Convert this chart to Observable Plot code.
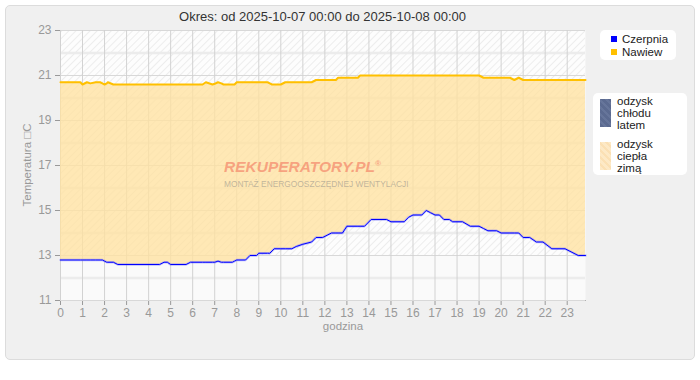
<!DOCTYPE html>
<html><head><meta charset="utf-8">
<script src="https://cdn.jsdelivr.net/npm/d3@7"></script>
<script src="https://cdn.jsdelivr.net/npm/@observablehq/plot@0.6"></script>
<style>
body{margin:0;background:#fff;font-family:"Liberation Sans",Arial,sans-serif;}
#wrap{position:relative;width:700px;height:380px;overflow:hidden;}
#panel{position:absolute;left:5px;top:5px;width:688px;height:353px;background:#f0f0f0;border:1px solid #dcdcdc;border-radius:5px;}
#title{position:absolute;left:60px;width:525px;top:9px;text-align:center;font-size:13px;color:#333;line-height:16px;}
#chart{position:absolute;left:0;top:0;}
.lg{position:absolute;background:#fff;border-radius:5px;font-size:11.5px;color:#222;}
.row{position:absolute;white-space:nowrap;line-height:14px;}
.sq{position:absolute;width:6px;height:6px;}
.sw{position:absolute;width:11px;height:28px;}
#xl{position:absolute;left:300px;width:86px;text-align:center;top:320px;font-size:11.5px;color:#999;}
#yl{position:absolute;left:27px;top:165px;transform:translate(-50%,-50%) rotate(-90deg);font-size:11.5px;color:#999;white-space:nowrap;}
#wm1{position:absolute;left:224px;top:158px;font-size:15.5px;font-weight:bold;font-style:italic;color:rgba(245,140,110,0.75);white-space:nowrap;pointer-events:none;}
#wm1 sup{font-size:8px;vertical-align:6px;}
#wm2{position:absolute;left:224px;top:179px;font-size:8.4px;color:rgba(130,130,130,0.5);white-space:nowrap;pointer-events:none;}
</style></head>
<body>
<div id="wrap">
  <div id="panel"></div>
  <div id="title">Okres: od 2025-10-07 00:00 do 2025-10-08 00:00</div>
  <div id="chart"></div>
  <div id="wm1">REKUPERATORY.PL<sup>®</sup></div>
  <div id="wm2">MONTAŻ ENERGOOSZCZĘDNEJ WENTYLACJI</div>
  <div id="xl">godzina</div>
  <div id="yl">Temperatura □C</div>
  <div class="lg" style="left:600px;top:30px;width:76px;height:30px;">
    <div class="sq" style="left:11px;top:6px;background:#0000ff;"></div>
    <div class="row" style="left:22px;top:2px;">Czerpnia</div>
    <div class="sq" style="left:11px;top:19px;background:#ffc000;"></div>
    <div class="row" style="left:22px;top:15px;">Nawiew</div>
  </div>
  <div class="lg" style="left:593px;top:93px;width:94px;height:82px;">
    <div class="sw" style="left:7px;top:6px;background:repeating-linear-gradient(45deg,#5b6a90 0 3px,#66759a 3px 5px);"></div>
    <div class="row" style="left:24px;top:2px;line-height:12px;">odzysk<br>chłodu<br>latem</div>
    <div class="sw" style="left:7px;top:49px;background:repeating-linear-gradient(45deg,#fde9c6 0 3px,#fbe0b4 3px 5px);"></div>
    <div class="row" style="left:24px;top:45px;line-height:12px;">odzysk<br>ciepła<br>zimą</div>
  </div>
</div>
<script>
const hours = [0,0.9,1.0,1.2,1.35,1.6,1.8,1.9,2.0,2.1,2.15,2.4,2.6,4.5,4.7,4.85,5.0,5.7,5.9,6.45,6.6,6.9,7.0,7.15,7.3,7.4,7.8,7.9,8.0,8.4,8.6,8.9,9.0,9.4,9.5,9.6,9.7,10.0,10.2,10.5,10.7,11.0,11.4,11.6,11.9,12.1,12.3,12.5,12.6,12.8,13.0,13.5,13.6,13.8,14.1,14.8,15.0,15.6,15.8,16.0,16.4,16.6,16.8,17.0,17.2,17.4,17.65,17.8,18.25,18.6,19.0,19.2,19.4,19.8,20.0,20.4,20.6,20.8,21.0,21.3,21.6,21.9,22.3,22.9,23.5,23.83];
const czerpnia = [12.8,12.8,12.8,12.8,12.8,12.8,12.8,12.8,12.75,12.7,12.7,12.7,12.6,12.6,12.7,12.7,12.6,12.6,12.7,12.7,12.7,12.7,12.7,12.75,12.7,12.7,12.7,12.75,12.8,12.8,13.0,13.0,13.1,13.1,13.1,13.2,13.3,13.3,13.3,13.3,13.4,13.5,13.6,13.8,13.8,13.9,14.0,14.0,14.0,14.0,14.3,14.3,14.3,14.3,14.6,14.6,14.5,14.5,14.7,14.8,14.8,15.0,14.9,14.8,14.8,14.6,14.6,14.5,14.5,14.3,14.3,14.2,14.1,14.1,14.0,14.0,14.0,14.0,13.8,13.8,13.6,13.6,13.3,13.3,13.0,13.0];
const nawiew = [20.7,20.7,20.6,20.7,20.65,20.7,20.7,20.65,20.6,20.65,20.7,20.6,20.6,20.6,20.6,20.6,20.6,20.6,20.6,20.6,20.7,20.6,20.63,20.7,20.65,20.6,20.6,20.6,20.7,20.7,20.7,20.7,20.7,20.7,20.65,20.6,20.6,20.6,20.7,20.7,20.7,20.7,20.7,20.8,20.8,20.8,20.8,20.8,20.9,20.9,20.9,20.9,21.0,21.0,21.0,21.0,21.0,21.0,21.0,21.0,21.0,21.0,21.0,21.0,21.0,21.0,21.0,21.0,21.0,21.0,21.0,20.9,20.9,20.9,20.9,20.9,20.8,20.9,20.8,20.8,20.8,20.8,20.8,20.8,20.8,20.8];
const xTicks = [0,1,2,3,4,5,6,7,8,9,10,11,12,13,14,15,16,17,18,19,20,21,22,23];
const yTicks = [11,13,15,17,19,21,23];
const yMinor = [12,14,16,18,20,22];
const xDomain = [0, 23.83];
const yDomain = [11, 23];
const hatchBand = [13, 23];

const rows = hours.map((h, i) => ({h, cz: czerpnia[i], nw: nawiew[i]}));

const chart = Plot.plot({
  width: 600, height: 340,
  marginLeft: 60, marginRight: 15, marginTop: 30, marginBottom: 40,
  style: {background: "transparent", color: "#999", fontSize: "12px", fontFamily: "Liberation Sans, Arial, sans-serif", overflow: "visible"},
  x: {domain: xDomain, ticks: xTicks, tickSize: 5, tickPadding: 3, line: true, label: null},
  y: {domain: yDomain, ticks: yTicks, tickSize: 5, tickPadding: 4, line: true, label: null},
  marks: [
    Plot.frame({fill: "#fafafa", stroke: null}),
    Plot.rect([0], {x1: xDomain[0], x2: xDomain[1], y1: hatchBand[0], y2: hatchBand[1], fill: "url(#hatch)"}),
    Plot.ruleY(yMinor, {stroke: "#ececec", strokeWidth: 2.5}),
    Plot.ruleY(yTicks, {stroke: "#d8d8d8", strokeWidth: 1}),
    Plot.ruleX(xTicks, {stroke: "#d2d2d2", strokeWidth: 1}),
    Plot.areaY(rows, {x: "h", y1: "cz", y2: "nw", fill: "#ffe1a0", fillOpacity: 0.78}),
    Plot.lineY(rows, {x: "h", y: "nw", stroke: "#ffc000", strokeWidth: 2}),
    Plot.lineY(rows, {x: "h", y: "cz", stroke: "#6060ff", strokeWidth: 2.4, strokeOpacity: 0.4}),
    Plot.lineY(rows, {x: "h", y: "cz", stroke: "#0000ff", strokeWidth: 1})
  ]
});
d3.select(chart).insert("defs", ":first-child").html(
  '<pattern id="hatch" patternUnits="userSpaceOnUse" width="5" height="5" patternTransform="rotate(45)">' +
  '<rect width="5" height="5" fill="#fdfdfd"/><line x1="0" y1="0" x2="0" y2="5" stroke="#e3e3e3" stroke-width="1.2"/></pattern>'
);
document.getElementById("chart").appendChild(chart);
</script>
</body></html>
